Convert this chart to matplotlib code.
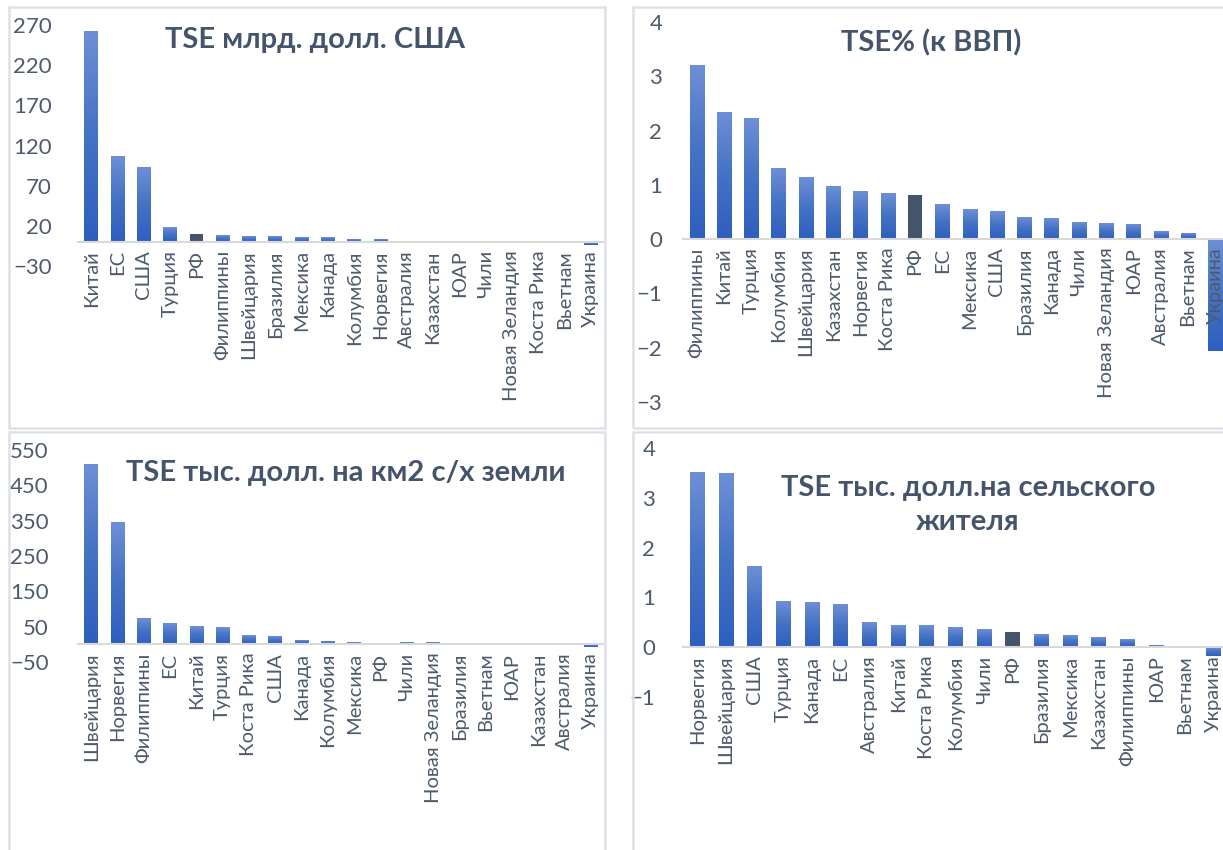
import matplotlib
matplotlib.use("Agg")
import matplotlib.pyplot as plt
import numpy as np
from matplotlib.colors import LinearSegmentedColormap
from matplotlib.patches import Rectangle

plt.rcParams['font.family'] = ['Lato', 'Open Sans', 'DejaVu Sans']

TEXT = '#44546A'
TICK = '#4E5A6C'
RF_COLOR = '#44546A'
LINE = '#D9D9D9'
BORDER = '#DDE1E7'

# panel 1: TSE, bln USD
cats_usd = ['Китай', 'ЕС', 'США', 'Турция', 'РФ', 'Филиппины', 'Швейцария',
            'Бразилия', 'Мексика', 'Канада', 'Колумбия', 'Норвегия',
            'Австралия', 'Казахстан', 'ЮАР', 'Чили', 'Новая Зеландия',
            'Коста Рика', 'Вьетнам', 'Украина']
vals_usd = [262, 107, 93, 17.6, 10.2, 7.7, 6.5, 6.5, 5.3, 5.3, 2.8, 2.8,
            0.5, 0.5, 0.5, 0.5, 0.5, 0.5, 0.5, -3.5]

# panel 2: TSE % of GDP
cats_gdp = ['Филиппины', 'Китай', 'Турция', 'Колумбия', 'Швейцария',
            'Казахстан', 'Норвегия', 'Коста Рика', 'РФ', 'ЕС', 'Мексика',
            'США', 'Бразилия', 'Канада', 'Чили', 'Новая Зеландия', 'ЮАР',
            'Австралия', 'Вьетнам', 'Украина']
vals_gdp = [3.2, 2.33, 2.22, 1.29, 1.14, 0.97, 0.88, 0.84, 0.82, 0.64, 0.54,
            0.51, 0.40, 0.38, 0.30, 0.28, 0.27, 0.14, 0.10, -2.06]

# panel 3: TSE, thousand USD per km2 of farmland
cats_land = ['Швейцария', 'Норвегия', 'Филиппины', 'ЕС', 'Китай', 'Турция',
             'Коста Рика', 'США', 'Канада', 'Колумбия', 'Мексика', 'РФ',
             'Чили', 'Новая Зеландия', 'Бразилия', 'Вьетнам', 'ЮАР',
             'Казахстан', 'Австралия', 'Украина']
vals_land = [507, 343, 71.6, 57.5, 49, 46, 23.6, 20.8, 9.4, 6.6, 3.8, 5,
             3.8, 3.8, 1, 1, 1, 1, 1, -8]

# panel 4: TSE, thousand USD per rural resident
cats_rural = ['Норвегия', 'Швейцария', 'США', 'Турция', 'Канада', 'ЕС',
              'Австралия', 'Китай', 'Коста Рика', 'Колумбия', 'Чили', 'РФ',
              'Бразилия', 'Мексика', 'Казахстан', 'Филиппины', 'ЮАР',
              'Вьетнам', 'Украина']
vals_rural = [3.51, 3.49, 1.61, 0.92, 0.90, 0.86, 0.50, 0.44, 0.44, 0.40,
              0.36, 0.30, 0.26, 0.24, 0.20, 0.16, 0.04, 0.02, -0.17]

grad_cmap = LinearSegmentedColormap.from_list('bar', ['#2E5FBE', '#4472C4', '#6E8FD6'])
grad = np.linspace(0, 1, 256).reshape(-1, 1)

W, H = 1223, 850


def px_axes(fig, left, right, top, bottom):
    return fig.add_axes([left / W, 1 - bottom / H, (right - left) / W, (bottom - top) / H])


def draw_panel(ax, cats, vals, ylim, yticks, pad):
    # spine position first: moving it resets the ticks
    for s in ['left', 'right', 'top']:
        ax.spines[s].set_visible(False)
    ax.spines['bottom'].set_position(('data', 0))
    ax.spines['bottom'].set_color(LINE)
    ax.spines['bottom'].set_linewidth(1.5)

    x = np.arange(len(cats))
    bars = ax.bar(x, vals, width=0.52, color='none', edgecolor='none', zorder=1)
    for b, c in zip(bars, cats):
        x0, w = b.get_x(), b.get_width()
        lo = min(b.get_y(), b.get_y() + b.get_height())
        hi = max(b.get_y(), b.get_y() + b.get_height())
        if c == 'РФ':
            b.set_facecolor(RF_COLOR)
        else:
            ax.imshow(grad, extent=[x0, x0 + w, lo, hi], origin='lower',
                      aspect='auto', cmap=grad_cmap, zorder=1, interpolation='bilinear')
    ax.set_xlim(-0.5, len(cats) - 0.5)
    ax.set_ylim(*ylim)
    ax.set_yticks(yticks)
    ax.set_xticks(x)
    ax.set_xticklabels(cats, rotation=90, fontsize=14.5, color=TICK)
    ax.tick_params(axis='x', length=0, pad=6)
    ax.tick_params(axis='y', length=0, pad=pad, labelsize=16, labelcolor=TICK)
    ax.patch.set_alpha(0)


fig = plt.figure(figsize=(W / 100, H / 100), dpi=100)

# panel frames
for (l, r, t, b) in [(9, 605, 7, 428), (633, 1240, 7, 428),
                     (9, 605, 432, 870), (633, 1240, 432, 870)]:
    fig.patches.append(Rectangle((l / W, 1 - b / H), (r - l) / W, (b - t) / H,
                                 transform=fig.transFigure, fill=False,
                                 edgecolor=BORDER, linewidth=1.8))

ax1 = px_axes(fig, 78, 604, 25, 266)
draw_panel(ax1, cats_usd, vals_usd, (-30, 270), np.arange(-30, 271, 50), 19)

ax2 = px_axes(fig, 683, 1229, 22, 402)
draw_panel(ax2, cats_gdp, vals_gdp, (-3, 4), np.arange(-3, 5, 1), 15)

ax3 = px_axes(fig, 78, 604, 450, 662)
draw_panel(ax3, cats_land, vals_land, (-50, 550), np.arange(-50, 551, 100), 21)

ax4 = px_axes(fig, 683, 1228, 448, 697)
draw_panel(ax4, cats_rural, vals_rural, (-1, 4), np.arange(-1, 5, 1), 20)

title_kw = dict(ha='center', va='center', fontsize=21, fontweight='bold', color=TEXT)
fig.text(315 / W, 1 - 40 / H, 'TSE млрд. долл. США', **title_kw)
fig.text(931 / W, 1 - 43 / H, 'TSE% (к ВВП)', **title_kw)
fig.text(346 / W, 1 - 473 / H, 'TSE тыс. долл. на км2 с/х земли', **title_kw)
fig.text(968 / W, 1 - 505 / H, 'TSE тыс. долл.на сельского\nжителя',
         linespacing=1.4, **title_kw)

fig.savefig('out.png', dpi=100)
